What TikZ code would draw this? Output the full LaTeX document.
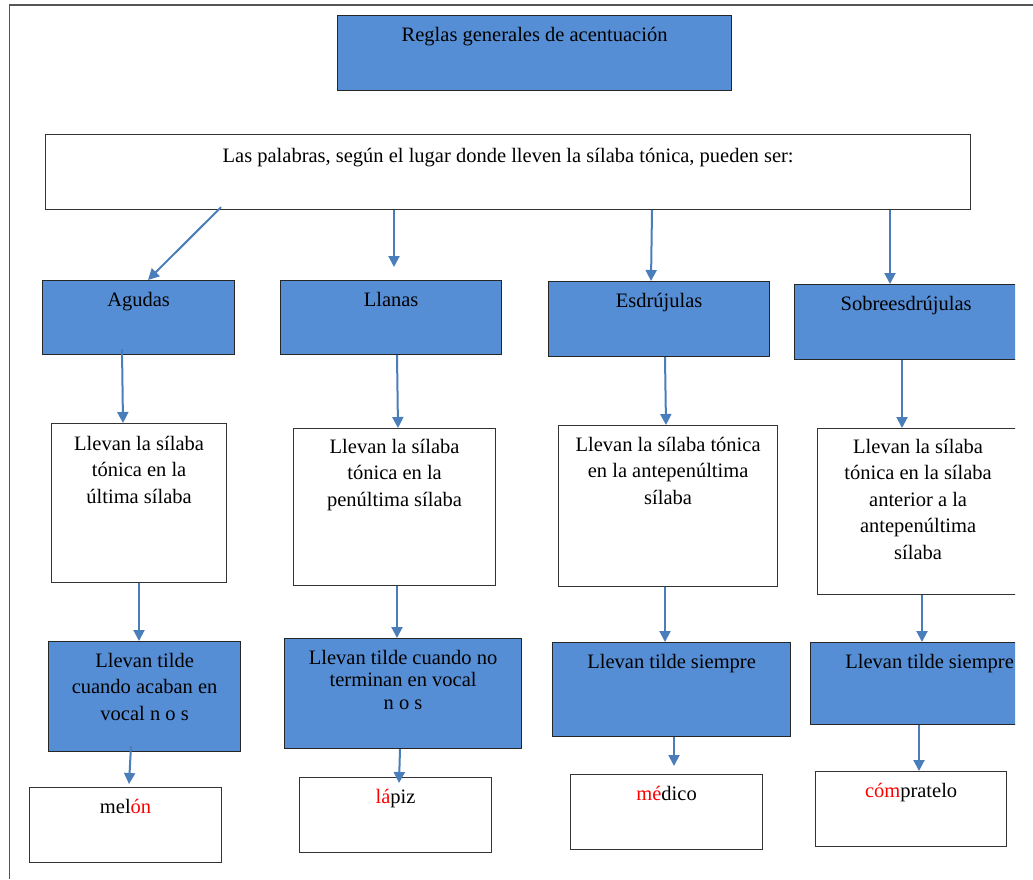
\documentclass[tikz,border=0pt]{standalone}
\usepackage{fontspec}
\setmainfont{Liberation Serif}
\usetikzlibrary{arrows.meta,calc}
\definecolor{boxblue}{RGB}{85,142,213}
\definecolor{arrowblue}{RGB}{74,126,187}
\definecolor{framegray}{RGB}{85,85,85}
\newcommand{\tline}[1]{\parbox[t]{640pt}{\centering #1}}
\begin{document}
\begin{tikzpicture}[x=1pt,y=-1pt,
  bluebox/.style={draw=black!85, line width=1.2pt, fill=boxblue, rectangle, inner sep=0pt, anchor=north west},
  whitebox/.style={draw=black!80, line width=1.2pt, fill=white, rectangle, inner sep=0pt, anchor=north west},
  txt/.style={anchor=base, inner sep=0pt, font=\fontsize{20.5}{26.5}\selectfont, text=black},
  tighttxt/.style={txt, font=\fontsize{20.5}{22.5}\selectfont},
  arr/.style={draw=arrowblue, line width=2pt, -{Triangle[length=11pt,width=11pt]}},
  frameline/.style={draw=framegray, line width=1.6pt},
]
\useasboundingbox (0,0) rectangle (1033,879);
\fill[white] (0,0) rectangle (1033,879);
% page frame
\coordinate (fTL) at (9.5,5);
\coordinate (fTR) at (1033,5);
\coordinate (fBL) at (9.5,879);
\draw[frameline] (fTR) -- (fTL) -- (fBL);

\begin{scope}
\clip (0,0) rectangle (1015,879);
% boxes
\node[bluebox, minimum width=394, minimum height=75] (title) at (337,15) {};
\node[whitebox, minimum width=925, minimum height=75] (main) at (45,134) {};
\node[bluebox, minimum width=192, minimum height=74] (agudas) at (42,280) {};
\node[bluebox, minimum width=221, minimum height=74] (llanas) at (280,280) {};
\node[bluebox, minimum width=221, minimum height=75] (esdr) at (548,281) {};
\node[bluebox, minimum width=223, minimum height=75] (sobre) at (794,284) {};
\node[whitebox, minimum width=175, minimum height=159] (a3) at (51,423) {};
\node[whitebox, minimum width=202, minimum height=157] (l3) at (293,428) {};
\node[whitebox, minimum width=219, minimum height=161] (e3) at (558,425) {};
\node[whitebox, minimum width=201, minimum height=166] (s3) at (817,428) {};
\node[bluebox, minimum width=192, minimum height=110] (a4) at (48,641) {};
\node[bluebox, minimum width=237, minimum height=110] (l4) at (284,638) {};
\node[bluebox, minimum width=238, minimum height=94] (e4) at (552,642) {};
\node[bluebox, minimum width=238, minimum height=82] (s4) at (810,642) {};
\node[whitebox, minimum width=192, minimum height=75] (a5) at (29,787) {};
\node[whitebox, minimum width=192, minimum height=75] (l5) at (299,777) {};
\node[whitebox, minimum width=192, minimum height=75] (e5) at (570,774) {};
\node[whitebox, minimum width=191, minimum height=75] (s5) at (815,771) {};

% texts
\node[txt] (tTitle) at ($(title.north)+(0,26)$) {\tline{Reglas generales de acentuación}};
\node[txt] (tMain) at ($(main.north)+(0,28)$) {\tline{Las palabras, según el lugar donde lleven la sílaba tónica, pueden ser:}};
\node[txt] (tAgudas) at ($(agudas.north)+(0,26)$) {\tline{Agudas}};
\node[txt] (tLlanas) at ($(llanas.north)+(0,26.5)$) {\tline{Llanas}};
\node[txt] (tEsdr) at ($(esdr.north)+(0,26)$) {\tline{Esdrújulas}};
\node[txt] (tSobre) at ($(sobre.north)+(0,26.5)$) {\tline{Sobreesdrújulas}};
\node[txt] (tA3) at ($(a3.north)+(0,27)$) {\tline{Llevan la sílaba\\tónica en la\\última sílaba}};
\node[txt] (tL3) at ($(l3.north)+(0,25)$) {\tline{Llevan la sílaba\\tónica en la\\penúltima sílaba}};
\node[txt] (tE3) at ($(e3.north)+(0,26)$) {\tline{Llevan la sílaba tónica\\en la antepenúltima\\sílaba}};
\node[txt] (tS3) at ($(s3.north)+(0,25)$) {\tline{Llevan la sílaba\\tónica en la sílaba\\anterior a la\\antepenúltima\\sílaba}};
\node[txt] (tA4) at ($(a4.north)+(0,26)$) {\tline{Llevan tilde\\cuando acaban en\\vocal n o s}};
\node[tighttxt] (tL4) at ($(l4.north)+(0,26)$) {\tline{Llevan tilde cuando no\\terminan en vocal\\n o s}};
\node[txt] (tE4) at ($(e4.north)+(0,26)$) {\tline{Llevan tilde siempre}};
\node[txt] (tS4) at ($(s4.north)+(0,26)$) {\tline{Llevan tilde siempre}};
\node[txt] (tA5) at ($(a5.north)+(0,26)$) {\tline{mel\textcolor{red}{ón}}};
\node[txt] (tL5) at ($(l5.north)+(0,26)$) {\tline{\textcolor{red}{lá}piz}};
\node[txt] (tE5) at ($(e5.north)+(0,26)$) {\tline{\textcolor{red}{mé}dico}};
\node[txt] (tS5) at ($(s5.north)+(0,26)$) {\tline{\textcolor{red}{cóm}pratelo}};

% connectors
\draw[arr] ($(main.south west)+(176,-3)$) -- ($(agudas.north west)+(106,0)$);
\draw[arr] ($(main.south west)+(349,0)$) -- ($(llanas.north west)+(114,-13)$);
\draw[arr] ($(main.south west)+(607,0)$) -- ($(esdr.north west)+(103,0)$);
\draw[arr] ($(main.south west)+(845,0)$) -- ($(sobre.north west)+(96,0)$);
\draw[arr] ($(agudas.south west)+(80,-6)$) -- ($(a3.north west)+(72,0)$);
\draw[arr] ($(llanas.south west)+(117,0)$) -- ($(l3.north west)+(105,0)$);
\draw[arr] ($(esdr.south west)+(117,0)$) -- ($(e3.north west)+(108,0)$);
\draw[arr] ($(sobre.south west)+(108,0)$) -- ($(s3.north west)+(85,0)$);
\draw[arr] ($(a3.south west)+(88,0)$) -- ($(a4.north west)+(91,0)$);
\draw[arr] ($(l3.south west)+(104,0)$) -- ($(l4.north west)+(113,0)$);
\draw[arr] ($(e3.south west)+(107,0)$) -- ($(e4.north west)+(113,0)$);
\draw[arr] ($(s3.south west)+(105,0)$) -- ($(s4.north west)+(112,0)$);
\draw[arr] ($(a4.south west)+(83,-6)$) -- ($(a5.north west)+(100,-3)$);
\draw[arr] ($(l4.south west)+(116,0)$) -- ($(l5.north west)+(100,6)$);
\draw[arr] ($(e4.south west)+(122,0)$) -- ($(e5.north west)+(104,-8)$);
\draw[arr] ($(s4.south west)+(109,0)$) -- ($(s5.north west)+(104,0)$);
\end{scope}
\end{tikzpicture}
\end{document}
